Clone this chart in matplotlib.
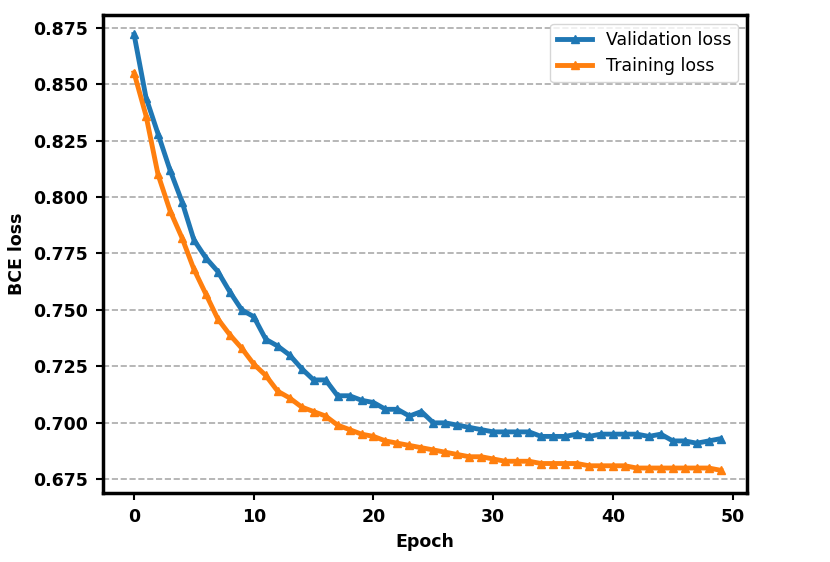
import matplotlib
matplotlib.use('Agg')
import matplotlib.pyplot as plt
import numpy as np

# loss values read per epoch
epochs = np.arange(50)
val_loss = [0.872, 0.844, 0.828, 0.812, 0.798, 0.781, 0.773, 0.767, 0.758, 0.750,
            0.747, 0.737, 0.734, 0.730, 0.724, 0.719, 0.719, 0.712, 0.712, 0.710,
            0.709, 0.706, 0.706, 0.703, 0.705, 0.700, 0.700, 0.699, 0.698, 0.697,
            0.696, 0.696, 0.696, 0.696, 0.694, 0.694, 0.694, 0.695, 0.694, 0.695,
            0.695, 0.695, 0.695, 0.694, 0.695, 0.692, 0.692, 0.691, 0.692, 0.693]
train_loss = [0.855, 0.836, 0.810, 0.794, 0.782, 0.768, 0.757, 0.746, 0.739, 0.733,
              0.726, 0.721, 0.714, 0.711, 0.707, 0.705, 0.703, 0.699, 0.697, 0.695,
              0.694, 0.692, 0.691, 0.690, 0.689, 0.688, 0.687, 0.686, 0.685, 0.685,
              0.684, 0.683, 0.683, 0.683, 0.682, 0.682, 0.682, 0.682, 0.681, 0.681,
              0.681, 0.681, 0.680, 0.680, 0.680, 0.680, 0.680, 0.680, 0.680, 0.679]
yticks = [0.675, 0.700, 0.725, 0.750, 0.775, 0.800, 0.825, 0.850, 0.875]

fig = plt.figure(figsize=(8.3, 5.62), dpi=100)
ax = fig.add_axes([0.124, 0.123, 0.776, 0.850])

ax.plot(epochs, val_loss, '-^', color='#1f77b4', lw=3.5, ms=5.5, label='Validation loss')
ax.plot(epochs, train_loss, '-^', color='#ff7f0e', lw=3.5, ms=5.5, label='Training loss')

ax.set_yticks(yticks)
ax.set_ylim(0.669, 0.8805)
ax.set_xlim(-2.6, 51.2)
ax.yaxis.grid(True, linestyle='--', color='#aaaaaa', lw=1.2)
ax.set_axisbelow(True)

for s in ax.spines.values():
    s.set_linewidth(2.5)
ax.tick_params(width=1.5, length=5, labelsize=12.5, pad=6)
for lab in ax.get_xticklabels() + ax.get_yticklabels():
    lab.set_fontweight('bold')

ax.set_xlabel('Epoch', fontsize=12.5, fontweight='bold', labelpad=5)
ax.set_ylabel('BCE loss', fontsize=12.5, fontweight='bold', labelpad=5)
ax.legend(loc='upper right', fontsize=12.5)

fig.savefig('out.png', dpi=100)
